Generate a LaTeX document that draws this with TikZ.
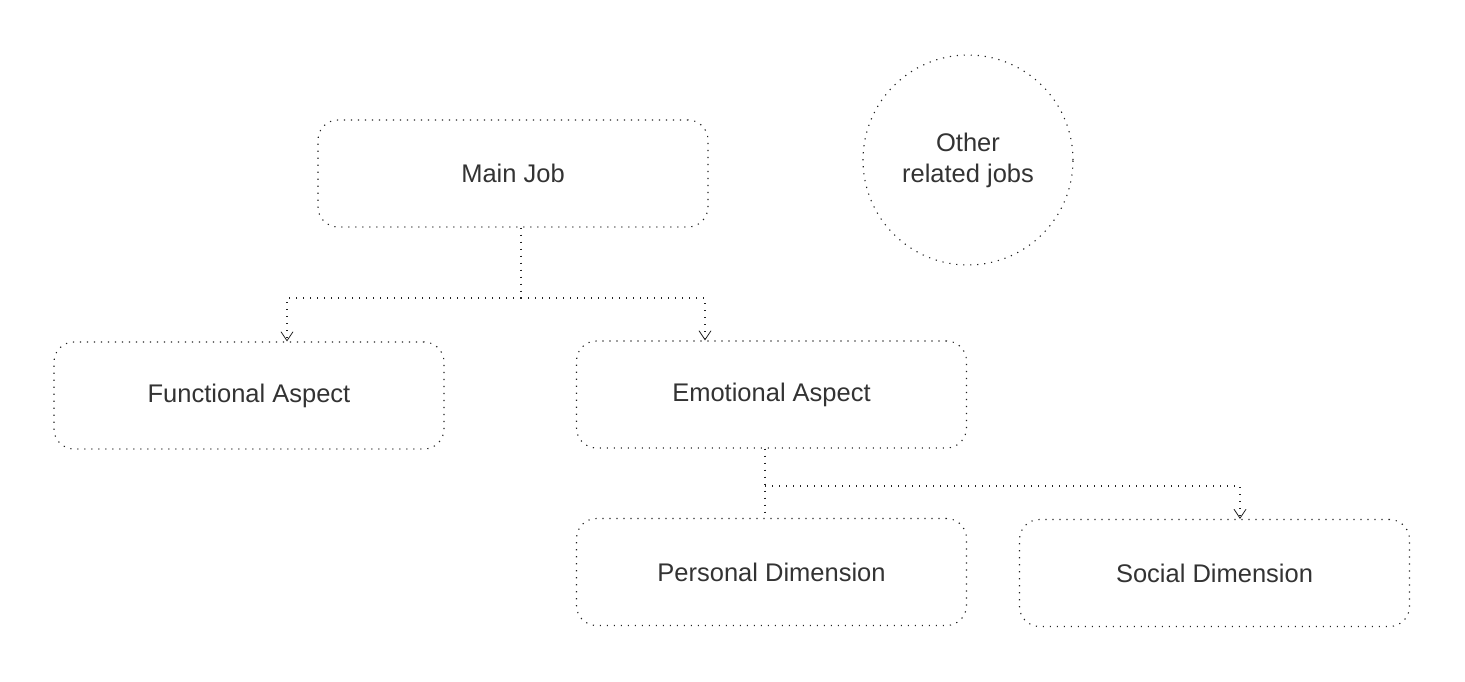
\documentclass[tikz,border=0pt]{standalone}
\usepackage{fontspec}
\setmainfont{Liberation Sans}
\usetikzlibrary{arrows.meta}
\definecolor{txt}{HTML}{333333}
\definecolor{ln}{HTML}{222222}
\tikzset{
  dotline/.style={draw=ln, line width=1.1pt, dash pattern=on 1.2pt off 5.8pt},
  jobbox/.style={dotline, rounded corners=20pt, minimum width=390pt, minimum height=107pt, inner sep=0pt, text=txt, font=\fontsize{25.5}{30}\selectfont},
  jobcirc/.style={dotline, circle, minimum size=210pt, inner sep=0pt, text=txt, align=center, font=\fontsize{25.5}{31}\selectfont},
  conn/.style={dotline},
  arr/.style={dotline, -{Straight Barb[length=9pt,width=12pt,line width=0.8pt]}},
}
\begin{document}
\begin{tikzpicture}[x=1pt,y=-1pt]
\useasboundingbox (0,0) rectangle (1465,682);
\node[jobbox] (main) at (513,173.5) {Main Job};
\node[jobcirc] (other) at (968,160) {Other\\related jobs};
\node[jobbox] (func) at (249,395.5) {Functional Aspect};
\node[jobbox] (emo) at (771.5,394.5) {Emotional Aspect};
\node[jobbox] (pers) at (771.5,572) {Personal Dimension};
\node[jobbox] (soc) at (1214.5,573) {Social Dimension};
\coordinate (j1) at (521,298);
\coordinate (j2) at (765,486);
\draw[conn] (main.south -| j1) -- (j1);
\draw[arr] (j1) -| ([xshift=38pt]func.north);
\draw[arr] (j1) -| ([xshift=-66.5pt]emo.north);
\draw[conn] (emo.south -| j2) -- (pers.north -| j2);
\draw[arr] (j2) -| ([xshift=25.5pt]soc.north);
\end{tikzpicture}
\end{document}
